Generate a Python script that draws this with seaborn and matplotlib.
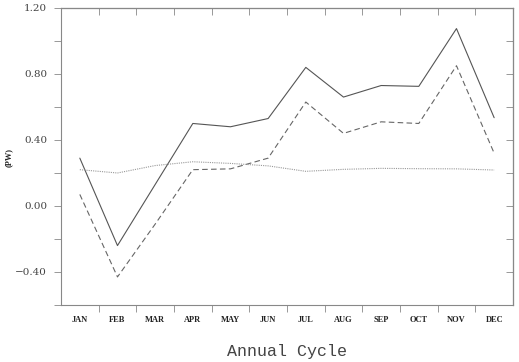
import matplotlib
matplotlib.use("Agg")
import matplotlib.pyplot as plt
import seaborn as sns
import pandas as pd
import numpy as np
from matplotlib.ticker import MultipleLocator, FixedLocator

months = ["JAN", "FEB", "MAR", "APR", "MAY", "JUN", "JUL", "AUG", "SEP", "OCT", "NOV", "DEC"]
solid = [0.29, -0.24, 0.13, 0.50, 0.48, 0.53, 0.84, 0.66, 0.73, 0.725, 1.075, 0.535]
dashed = [0.07, -0.43, -0.11, 0.22, 0.225, 0.29, 0.63, 0.44, 0.51, 0.50, 0.85, 0.32]
dotted = [0.22, 0.20, 0.245, 0.268, 0.258, 0.243, 0.21, 0.222, 0.228, 0.226, 0.225, 0.218]
yticks = [-0.40, 0.00, 0.40, 0.80, 1.20]

sns.set_style("white")
fig = plt.figure(figsize=(5.19, 3.62), dpi=100)
ax = fig.add_axes([0.1175, 0.1575, 0.8709, 0.8205])

x = np.arange(len(months))
df = pd.DataFrame({"x": np.tile(x, 3),
                   "y": solid + dashed + dotted,
                   "s": ["a"] * 12 + ["b"] * 12 + ["c"] * 12})
sns.lineplot(data=df, x="x", y="y", hue="s", style="s",
             palette={"a": "#555555", "b": "#666666", "c": "#999999"},
             dashes={"a": "", "b": (5, 3), "c": (1, 1)},
             linewidth=0.8, legend=False, ax=ax)

ax.set_xlim(-0.5, 11.5)
ax.set_ylim(-0.60, 1.20)
ax.set_xticks(x)
ax.set_xticklabels(months, fontsize=6, fontweight="bold", family="Liberation Serif", color="#222222")
ax.xaxis.set_minor_locator(FixedLocator(np.arange(0.5, 11, 1)))
ax.tick_params(axis="x", which="major", length=0, pad=8, bottom=True)
ax.tick_params(axis="x", which="minor", length=5, direction="out", color="#888888", width=0.6,
               bottom=True, top=False)

ax.set_yticks(yticks)
ax.set_yticklabels([f"{v:.2f}".replace("-", "\u2212") for v in yticks], fontsize=7.5,
                   family="DejaVu Serif", color="#444444")
ax.yaxis.set_minor_locator(MultipleLocator(0.2))
ax.tick_params(axis="y", which="both", length=5, direction="out", color="#888888", width=0.6,
               left=True, right=False, pad=5)

ax.set_xlabel("Annual Cycle", fontsize=12, family="Liberation Mono", color="#444444", labelpad=14)
ax.set_ylabel("(PW)", fontsize=6, fontweight="bold", family="Liberation Serif", color="#222222")
ax.yaxis.set_label_coords(-0.106, 0.498)

for sp in ax.spines.values():
    sp.set_color("#888888")
    sp.set_linewidth(0.8)

# inward ticks on right and top
ax2 = ax.secondary_yaxis("right")
ax2.set_yticks(np.arange(-0.6, 1.21, 0.2))
ax2.tick_params(direction="in", length=5, color="#888888", width=0.6, right=True)
ax2.set_yticklabels([])
ax3 = ax.secondary_xaxis("top")
ax3.set_xticks(np.arange(0.5, 11, 1))
ax3.tick_params(direction="in", length=5, color="#888888", width=0.6, top=True)
ax3.set_xticklabels([])

fig.savefig("out.png", dpi=100)
